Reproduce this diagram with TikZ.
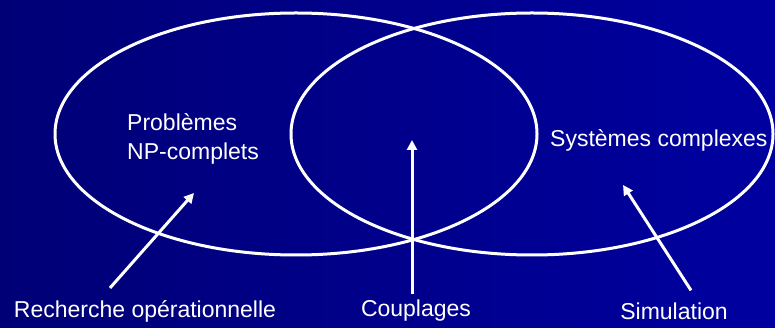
\documentclass[tikz,border=0pt]{standalone}
\usepackage{fontspec}
\setmainfont{Liberation Sans}
\usepackage{tikz}
\usetikzlibrary{arrows.meta, positioning, calc, shapes.geometric}

\definecolor{fondA}{RGB}{0,0,118}
\definecolor{fondB}{RGB}{0,0,160}

\tikzset{
  domaine/.style={ellipse, draw=white, line width=3pt, inner sep=0pt,
    minimum width=482pt, minimum height=242pt},
  etiquette/.style={text=white, font=\fontsize{23}{29}\selectfont, inner sep=0pt},
  fleche/.style={white, line width=3pt, -{Triangle[length=10pt,width=10pt]}}
}

\begin{document}
\begin{tikzpicture}[x=1pt, y=-1pt]
% fond
\useasboundingbox (0,0) rectangle (775,328);
\shade[left color=fondA, right color=fondB] (0,0) rectangle (775,328);

% les deux domaines
\node[domaine] (ro) at (296,134) {};
\node[domaine] (sc) at (532,134) {};

% textes dans les ellipses
\node[etiquette, align=left, anchor=west] (np) at (127,139) {Problèmes\\NP-complets};
\node[etiquette, anchor=west] (sys) at (550,140) {Systèmes complexes};

% textes du bas
\node[etiquette] (reco) at (145,311) {Recherche opérationnelle};
\node[etiquette] (coup) at (416,311) {Couplages};
\node[etiquette] (simu) at (674,311) {Simulation};

% pointes des flèches
\coordinate (pRo) at (194,193);
\coordinate (pCoup) at (412,140);
\coordinate (pSimu) at (623,185);

% flèches
\draw[fleche] ([xshift=-35pt, yshift=12pt]reco.north) -- (pRo);
\draw[fleche] ([xshift=-4pt, yshift=6pt]coup.north) -- (pCoup);
\draw[fleche] ([xshift=17pt, yshift=12pt]simu.north) -- (pSimu);
\end{tikzpicture}
\end{document}
